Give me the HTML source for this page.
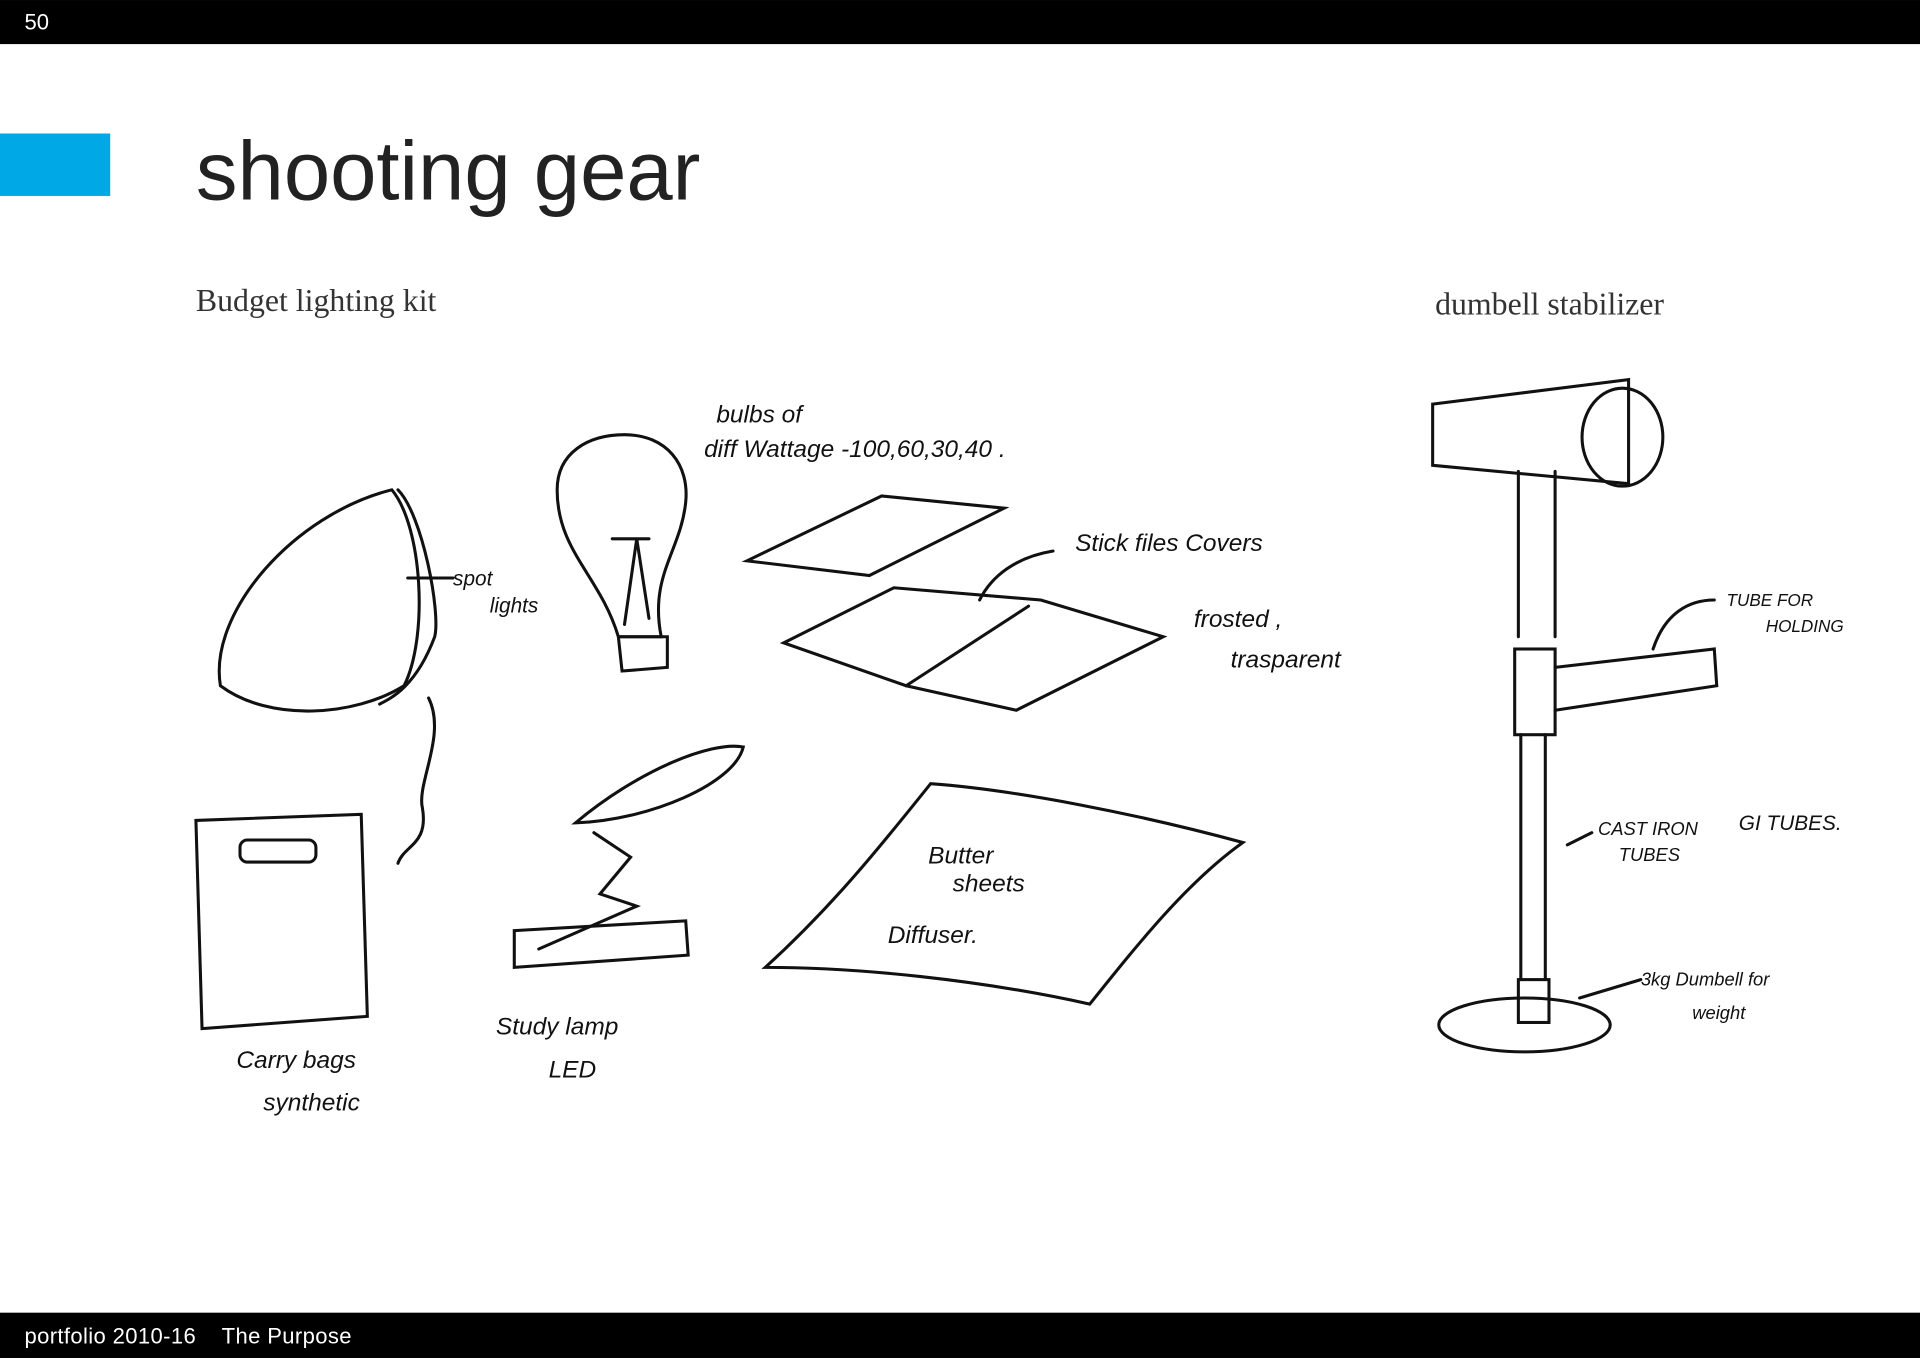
<!DOCTYPE html>
<html><head><meta charset="utf-8"><style>
html,body{margin:0;padding:0;background:#fff;width:1920px;height:1358px;overflow:hidden}
svg{display:block}
.h{font-family:"Liberation Sans",sans-serif;font-style:italic;fill:#111}
</style></head><body>
<svg width="1920" height="1358" viewBox="0 0 1568 1109" xmlns="http://www.w3.org/2000/svg">
<rect x="0" y="0" width="1568" height="36" fill="#000"/>
<text x="20" y="24" font-family="Liberation Sans,sans-serif" font-size="18" fill="#fff">50</text>
<rect x="0" y="109" width="90" height="51" fill="#00a8e6"/>
<text x="160" y="163" font-family="Liberation Sans,sans-serif" font-size="68" fill="#222">shooting gear</text>
<text x="160" y="254" font-family="Liberation Serif,serif" font-size="26" fill="#333">Budget lighting kit</text>
<text x="1172" y="257" font-family="Liberation Serif,serif" font-size="26" fill="#333">dumbell stabilizer</text>
<rect x="0" y="1072" width="1568" height="37" fill="#000"/>
<text x="20" y="1097" font-family="Liberation Sans,sans-serif" font-size="18" fill="#fff" xml:space="preserve" letter-spacing="0.3">portfolio 2010-16    The Purpose</text>
<g fill="none" stroke="#111" stroke-width="2.5" stroke-linecap="round">
<path d="M180 560 C170 500 240 420 320 400 C345 430 350 520 330 560 C290 585 220 590 180 560 Z"/>
<path d="M325 400 C345 420 360 500 355 520 C340 560 320 570 310 575"/>
<path d="M350 570 C365 600 340 640 345 660 C350 690 330 690 325 705"/>
<path d="M333 472 L370 472"/>
<path d="M505 520 C490 470 455 450 455 400 C455 370 480 355 510 355 C545 355 563 380 560 410 C556 450 530 470 540 520 Z"/>
<path d="M505 520 L545 520 L545 545 L508 548 Z"/>
<path d="M510 510 L520 440 L530 505 M500 440 L530 440"/>
<path d="M610 458 L720 405 L820 415 L710 470 Z"/>
<path d="M640 525 L730 480 L850 490 L950 520 L830 580 L740 560 Z"/>
<path d="M740 560 L840 495"/>
<path d="M800 490 C810 470 830 455 860 450"/>
<path d="M160 670 L295 665 L300 830 L165 840 Z"/>
<rect x="196" y="686" width="62" height="18" rx="6"/>
<path d="M470 672 C520 630 580 605 607 610 C600 640 530 670 470 672 Z"/>
<path d="M485 680 L515 700 L490 730 L520 740 L440 775"/>
<path d="M420 760 L560 752 L562 780 L420 790 Z"/>
<path d="M625 790 C680 740 720 690 760 640 C830 645 930 665 1015 688 C970 720 930 770 890 820 C800 800 700 790 625 790 Z"/>
<path d="M1170 330 L1330 310 L1330 395 L1170 380 Z"/>
<ellipse cx="1325" cy="357" rx="33" ry="40"/>
<path d="M1240 385 L1240 520 M1270 385 L1270 520"/>
<rect x="1237" y="530" width="33" height="70"/>
<path d="M1270 545 L1400 530 L1402 560 L1270 580"/>
<path d="M1242 600 L1242 800 M1262 600 L1262 800"/>
<rect x="1240" y="800" width="25" height="35"/>
<ellipse cx="1245" cy="837" rx="70" ry="22"/>
<path d="M1350 530 C1360 500 1380 490 1400 490 M1280 690 L1300 680 M1290 815 L1340 800"/>
</g>
<g class="h" font-size="20">
<text x="585" y="345">bulbs of</text>
<text x="575" y="373">diff Wattage -100,60,30,40 .</text>
<text x="370" y="478" font-size="17">spot</text>
<text x="400" y="500" font-size="17">lights</text>
<text x="878" y="450">Stick files Covers</text>
<text x="975" y="512">frosted ,</text>
<text x="1005" y="545">trasparent</text>
<text x="758" y="705">Butter</text>
<text x="778" y="728">sheets</text>
<text x="725" y="770">Diffuser.</text>
<text x="193" y="872">Carry bags</text>
<text x="215" y="907">synthetic</text>
<text x="405" y="845">Study lamp</text>
<text x="448" y="880">LED</text>
<text x="1410" y="495" font-size="14">TUBE FOR</text>
<text x="1442" y="516" font-size="14">HOLDING</text>
<text x="1305" y="682" font-size="15">CAST IRON</text>
<text x="1322" y="703" font-size="15">TUBES</text>
<text x="1420" y="678" font-size="17">GI TUBES.</text>
<text x="1340" y="805" font-size="15">3kg Dumbell for</text>
<text x="1382" y="832" font-size="15">weight</text>
</g>
</svg>
</body></html>
